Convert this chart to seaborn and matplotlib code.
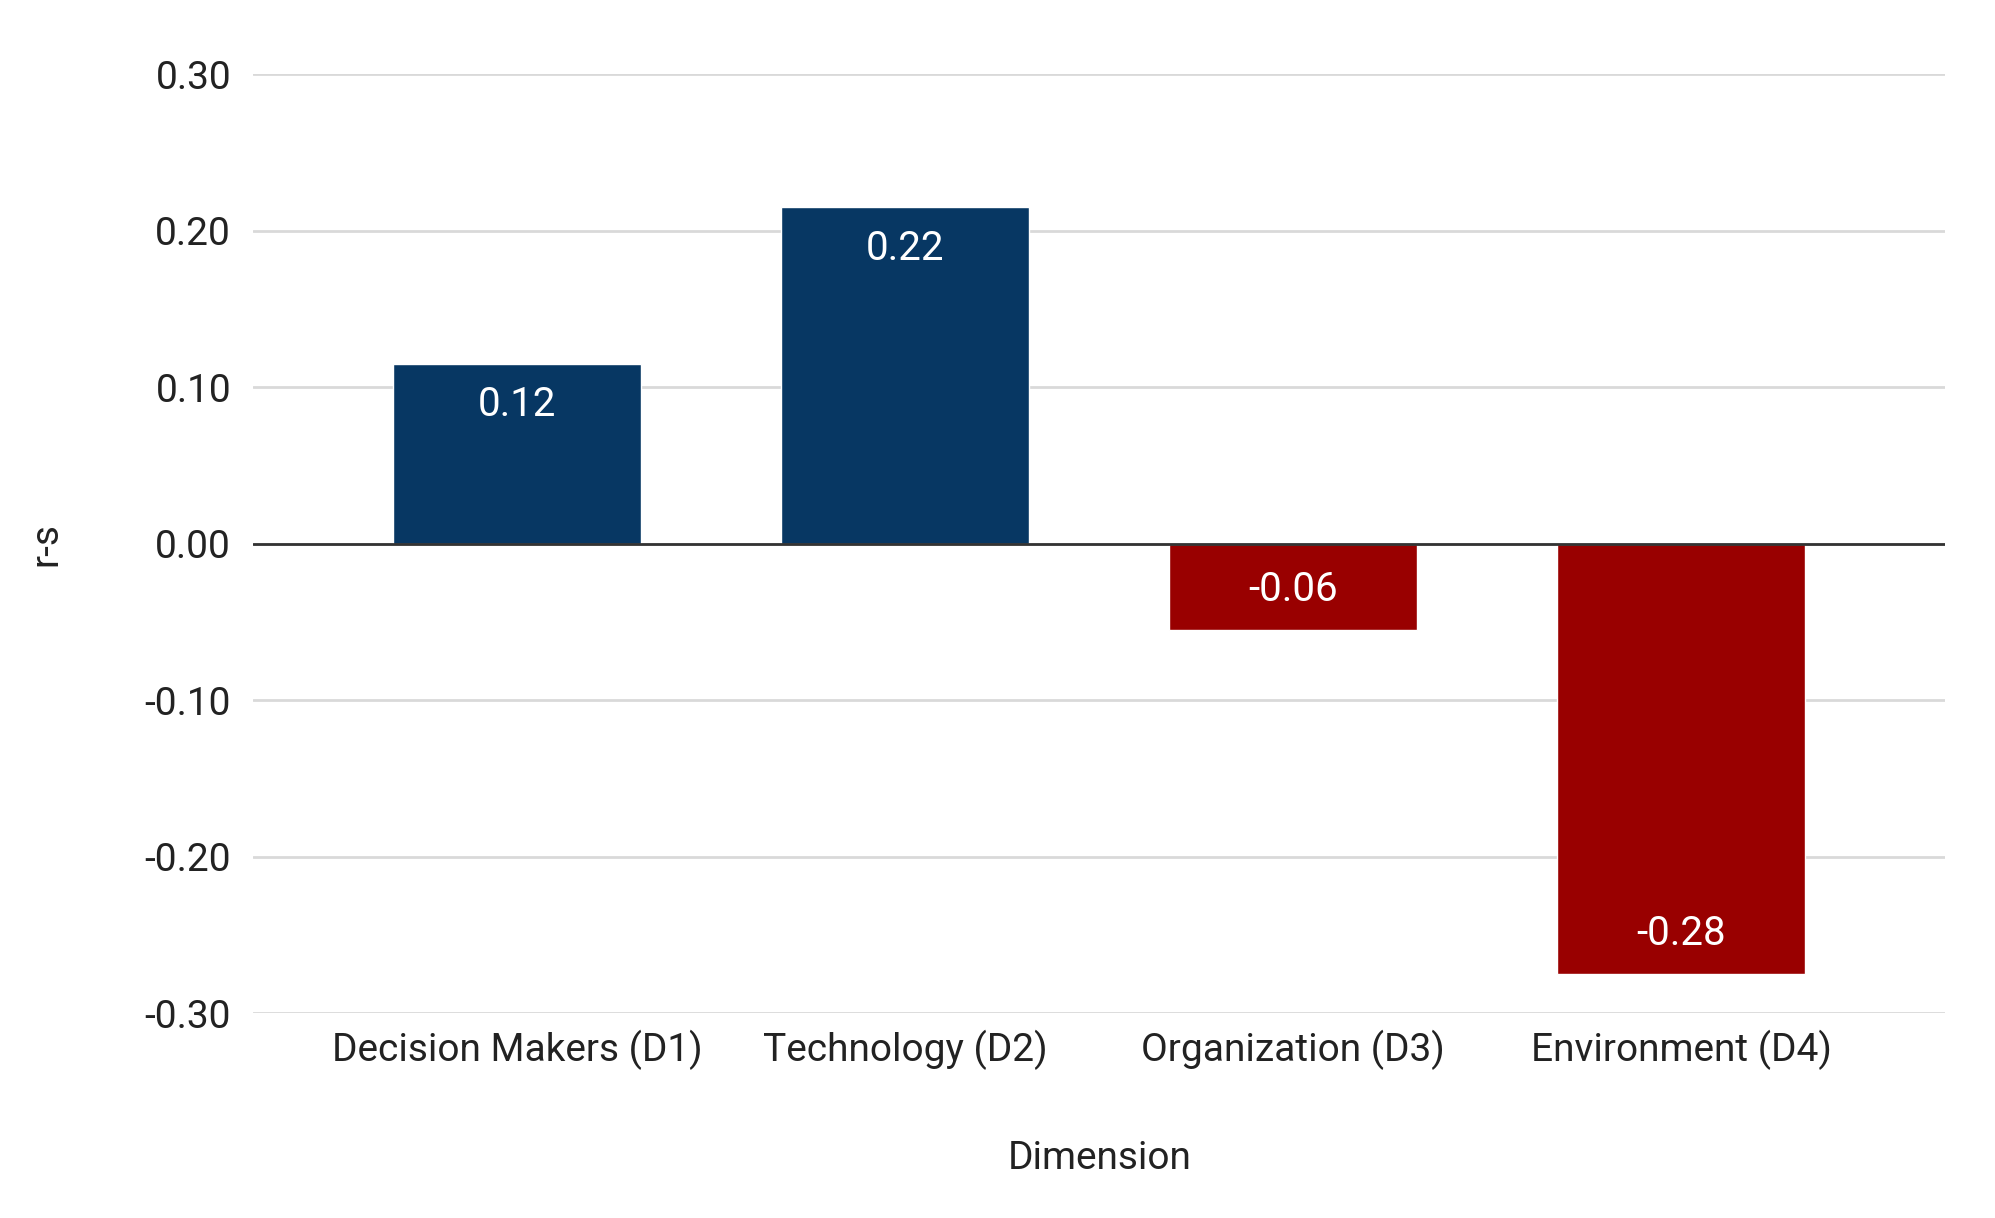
import pandas as pd
import seaborn as sns
import matplotlib.pyplot as plt

# Data
dimensions = ["Decision Makers (D1)", "Technology (D2)", "Organization (D3)", "Environment (D4)"]
rs_values = [0.115, 0.215, -0.055, -0.275]
value_labels = ["0.12", "0.22", "-0.06", "-0.28"]
y_ticks = [0.30, 0.20, 0.10, 0.00, -0.10, -0.20, -0.30]

blue = "#073763"
red = "#990000"
bar_colors = [blue if v >= 0 else red for v in rs_values]

df = pd.DataFrame({"Dimension": dimensions, "r-s": rs_values})

sns.set_theme(style="white")
plt.rcParams['font.family'] = ['Roboto', 'DejaVu Sans']

fig, ax = plt.subplots(figsize=(19.95, 12.18), dpi=100)
fig.subplots_adjust(left=0.127, right=0.975, top=0.939, bottom=0.168)

sns.barplot(data=df, x="Dimension", y="r-s", hue="Dimension",
            palette=bar_colors, saturation=1, width=0.64, legend=False,
            ax=ax, zorder=3)

# Value labels inside bar ends
for i, (v, lab) in enumerate(zip(rs_values, value_labels)):
    off = -0.026 if v >= 0 else 0.026
    ax.text(i, v + off, lab, ha="center", va="center", color="white", fontsize=29)

ax.set_ylim(-0.30, 0.30)
ax.set_xlim(-0.68, 3.68)
ax.set_yticks(y_ticks)
ax.set_yticklabels([f"{t:.2f}" for t in y_ticks])
ax.grid(axis="y", color="#d9d9d9", linewidth=2, zorder=0)
ax.axhline(0, color="#333333", linewidth=2, zorder=4)

for s in ax.spines.values():
    s.set_visible(False)
ax.tick_params(axis="y", length=0, labelsize=28, colors="#222222", pad=16)
ax.tick_params(axis="x", length=0, labelsize=28, colors="#222222", pad=12)

ax.set_xlabel("Dimension", fontsize=28, color="#222222", labelpad=50)
ax.set_ylabel("r-s", fontsize=28, color="#222222", labelpad=58)

fig.savefig("out.png", dpi=100, facecolor="white")
